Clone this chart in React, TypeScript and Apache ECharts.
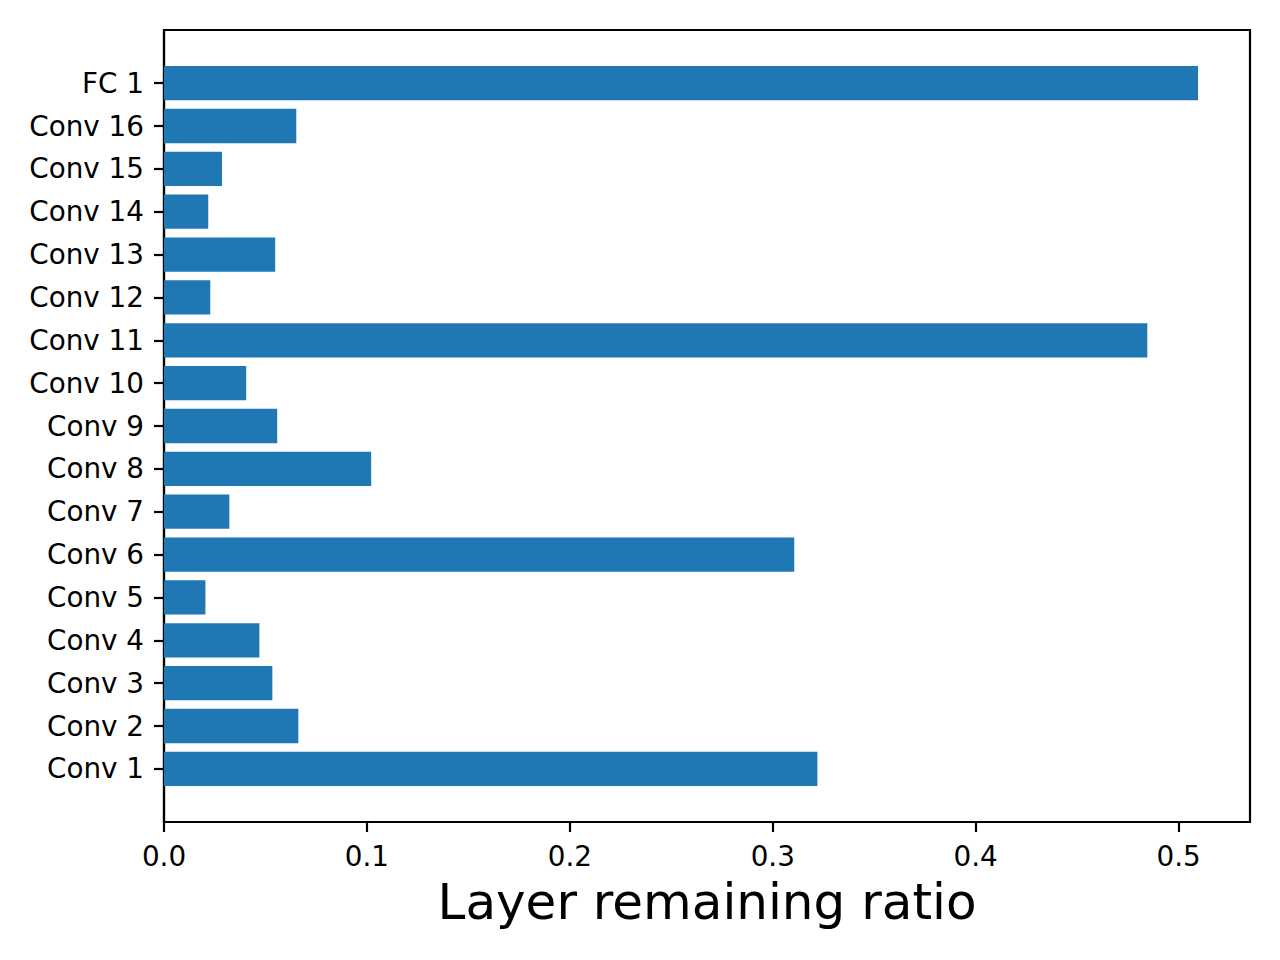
import React, { useEffect, useRef } from "react";
import * as echarts from "echarts";

const categories = [
  "Conv 1", "Conv 2", "Conv 3", "Conv 4", "Conv 5", "Conv 6", "Conv 7", "Conv 8",
  "Conv 9", "Conv 10", "Conv 11", "Conv 12", "Conv 13", "Conv 14", "Conv 15", "Conv 16", "FC 1",
];
const ratios = [
  0.322, 0.0662, 0.0534, 0.047, 0.0204, 0.3106, 0.0322, 0.1021,
  0.0558, 0.0405, 0.4846, 0.0228, 0.0548, 0.0218, 0.0286, 0.0652, 0.5096,
];
const xTicks = [0, 0.1, 0.2, 0.3, 0.4, 0.5];
const xTitle = "Layer remaining ratio";

export default function App() {
  const ref = useRef<HTMLDivElement>(null);
  useEffect(() => {
    document.body.style.margin = "0";
    const chart = echarts.init(ref.current!, null, { renderer: "svg" });
    const font = "DejaVu Sans";
    const yIdx = categories.map((_, i) => i);
    const axisLineStyle = { color: "#000", width: 2.2 };
    chart.setOption({
      animation: false,
      textStyle: { fontFamily: font },
      grid: {
        left: 164, top: 30, width: 1086, height: 792,
        show: true, borderColor: "#000", borderWidth: 2.2, backgroundColor: "transparent",
      },
      xAxis: {
        type: "value",
        min: 0,
        max: 0.5352,
        splitLine: { show: false },
        axisLine: { show: true, onZero: false, lineStyle: axisLineStyle },
        axisTick: { show: true, inside: false, length: 10, lineStyle: axisLineStyle, customValues: xTicks },
        axisLabel: {
          customValues: xTicks,
          formatter: (v: number) => v.toFixed(1),
          fontSize: 27.8, color: "#000", fontFamily: font, margin: 20,
        },
        name: xTitle,
        nameLocation: "middle",
        nameGap: 55,
        nameTextStyle: { fontSize: 50, color: "#000", fontFamily: font },
      },
      yAxis: {
        type: "value",
        min: -1.24,
        max: 17.24,
        splitLine: { show: false },
        axisLine: { show: true, onZero: false, lineStyle: axisLineStyle },
        axisTick: { show: true, inside: false, length: 10, lineStyle: axisLineStyle, customValues: yIdx },
        axisLabel: {
          customValues: yIdx,
          formatter: (v: number) => categories[Math.round(v)] ?? "",
          fontSize: 27.8, color: "#000", fontFamily: font, margin: 20,
        },
      },
      series: [
        {
          type: "custom",
          clip: true,
          encode: { x: 0, y: 1 },
          data: ratios.map((v, i) => [v, i]),
          renderItem: (params: any, api: any) => {
            const y = api.value(1);
            const start = api.coord([0, y]);
            const end = api.coord([api.value(0), y]);
            const h = api.size([0, 0.8])[1];
            return {
              type: "rect",
              shape: { x: start[0], y: start[1] - h / 2, width: end[0] - start[0], height: h },
              style: { fill: "#1f77b4" },
            };
          },
        },
      ],
    });
    return () => chart.dispose();
  }, []);
  return <div ref={ref} style={{ width: 1280, height: 960 }} />;
}
